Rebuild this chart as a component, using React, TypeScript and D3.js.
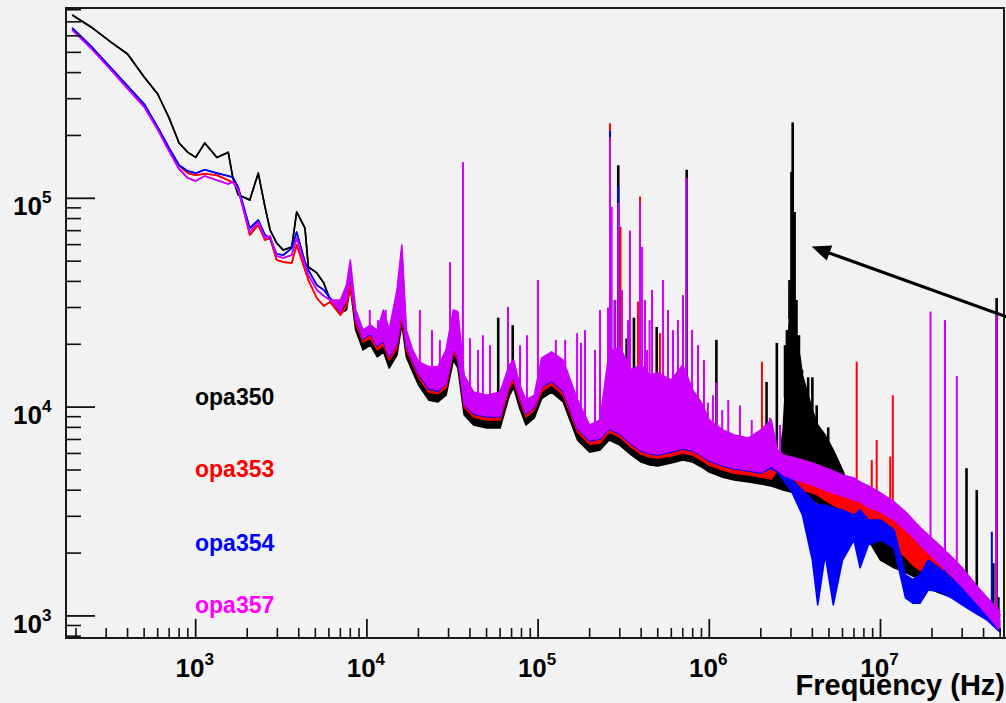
import React from 'react';
import * as d3 from 'd3';

// ---------- data ----------
const FREQ = [
  190, 250, 320, 400, 500, 600, 700, 800, 900, 1000,
  1130, 1330, 1550, 1650, 1770, 2070, 2320, 2540, 2720, 2970,
  3250, 3640, 3890, 4350, 4550, 5100, 5600, 6100, 7000, 7600,
  8000, 8600, 9500, 10500, 11500, 12500, 13500, 15000, 16000, 17000,
  18500, 20000, 23000, 26000, 29000, 32000, 34000, 37000, 42000, 50000,
  60000, 68000, 72000, 78000, 85000, 95000, 105000, 120000, 140000, 170000,
  200000, 230000, 260000, 300000, 350000, 400000, 450000, 500000, 600000, 700000,
  800000, 900000, 1.0e6, 1.2e6, 1.4e6, 1.7e6, 2.0e6, 2.3e6, 2.5e6, 2.7e6,
  3.0e6, 3.5e6, 4.0e6, 4.3e6, 4.75e6, 5.3e6, 6.0e6, 7.0e6, 7.6e6, 8.5e6,
  1.0e7, 1.2e7, 1.4e7, 1.55e7, 1.7e7, 1.9e7, 2.2e7, 2.6e7, 3.0e7, 3.6e7,
  4.2e7, 5.0e7,
];

// opa350 (black): lower trace and upper envelope of the noise band
const LO_350 = [
  7.55e5, 6.54e5, 5.60e5, 4.91e5, 3.81e5, 3.16e5, 2.42e5, 1.84e5, 1.66e5, 1.57e5,
  1.84e5, 1.57e5, 1.66e5, 1.25e5, 1.04e5, 9.81e4, 1.32e5, 9.09e4, 7.05e4, 6.11e4,
  5.65e4, 5.84e4, 8.60e4, 7.20e4, 4.69e4, 4.39e4, 3.93e4, 3.26e4, 2.82e4, 2.92e4,
  3.76e4, 2.34e4, 1.88e4, 1.98e4, 1.74e4, 1.84e4, 1.54e4, 1.78e4, 2.52e4, 1.74e4,
  1.48e4, 1.28e4, 1.08e4, 1.06e4, 1.14e4, 1.68e4, 1.54e4, 9.17e3, 8.21e3, 7.94e3,
  7.94e3, 1.14e4, 1.24e4, 9.9e3, 8.21e3, 8.87e3, 1.10e4, 1.18e4, 1.06e4, 6.96e3,
  6.09e3, 6.23e3, 6.96e3, 6.58e3, 5.90e3, 5.46e3, 5.28e3, 5.22e3, 5.40e3, 5.58e3,
  5.46e3, 5.17e3, 4.89e3, 4.62e3, 4.48e3, 4.38e3, 4.29e3, 4.19e3, 4.10e3, 4.01e3,
  3.92e3, 3.71e3, 3.59e3, 3.48e3, 3.32e3, 3.22e3, 3.04e3, 2.82e3, 2.58e3, 2.31e3,
  1.85e3, 1.70e3, 1.62e3, 1.55e3, 1.46e3, 1.36e3, 1.29e3, 1.23e3, 1.19e3, 1.09e3,
  1.01e3, 855,
];
const HI_350 = [
  null, null, null, null, null, null, null, null, null, null,
  null, null, null, null, null, null, null, null, null, null,
  null, null, null, null, null, null, null, null, 3.08e4, 3.33e4,
  4.06e4, 2.67e4, 2.14e4, 2.29e4, 1.98e4, 2.10e4, 1.76e4, 2.03e4, 2.86e4, 1.98e4,
  1.68e4, 1.48e4, 1.24e4, 1.21e4, 1.32e4, 1.88e4, 1.76e4, 1.06e4, 9.47e3, 9.17e3,
  9.27e3, 1.32e4, 1.40e4, 1.14e4, 9.47e3, 1.02e4, 1.28e4, 1.35e4, 1.21e4, 8.21e3,
  6.96e3, 7.12e3, 8.68e3, 8.21e3, 6.96e3, 6.58e3, 6.37e3, 6.23e3, 6.58e3, 6.96e3,
  6.44e3, 6.09e3, 5.71e3, 5.40e3, 5.22e3, 5.11e3, 5.00e3, 4.89e3, 5.00e3, 7.77e3,
  3.64e4, 1.42e4, 9.68e3, 8.21e3, 7.35e3, 6.23e3, 5.00e3, 3.59e3, 3.29e3, 3.04e3,
  2.73e3, 2.44e3, 2.19e3, 2.03e3, 1.89e3, 1.75e3, 1.62e3, 1.49e3, 1.36e3, 1.23e3,
  1.13e3, 1.01e3,
];

// opa353 (red)
const LO_353 = [
  6.54e5, 5.25e5, 4.21e5, 3.45e5, 2.80e5, 2.17e5, 1.72e5, 1.43e5, 1.32e5, 1.29e5,
  1.31e5, 1.29e5, 1.22e5, 1.19e5, 1.12e5, 6.67e4, 7.45e4, 6.31e4, 6.45e4, 5.06e4,
  4.95e4, 4.90e4, 5.98e4, 4.54e4, 4.06e4, 3.33e4, 3.05e4, 3.19e4, 2.76e4, 3.05e4,
  3.84e4, 2.52e4, 2.05e4, 2.14e4, 1.88e4, 1.98e4, 1.68e4, 1.92e4, 2.73e4, 1.88e4,
  1.61e4, 1.39e4, 1.18e4, 1.16e4, 1.24e4, 1.84e4, 1.68e4, 1.00e4, 8.97e3, 8.68e3,
  8.68e3, 1.24e4, 1.33e4, 1.08e4, 8.97e3, 9.68e3, 1.19e4, 1.28e4, 1.14e4, 7.60e3,
  6.65e3, 6.73e3, 7.60e3, 7.19e3, 6.44e3, 5.96e3, 5.77e3, 5.71e3, 5.84e3, 6.03e3,
  5.90e3, 5.58e3, 5.28e3, 5.00e3, 4.83e3, 4.73e3, 4.63e3, 4.53e3, 5.00e3, 4.58e3,
  4.24e3, 4.01e3, 3.88e3, 3.79e3, 3.59e3, 3.40e3, 3.22e3, 2.98e3, 2.82e3, 2.58e3,
  2.36e3, 2.12e3, 1.92e3, 1.75e3, 1.66e3, 1.57e3, 1.49e3, 1.36e3, 1.23e3, 1.11e3,
  990, 855,
];
const HI_353 = [
  null, null, null, null, null, null, null, null, null, null,
  null, null, null, null, null, null, null, null, null, null,
  null, null, null, null, null, null, null, null, null, null,
  null, 2.83e4, 2.29e4, 2.39e4, 2.10e4, 2.21e4, 1.88e4, 2.14e4, 3.26e4, 2.10e4,
  1.80e4, 1.56e4, 1.32e4, 1.30e4, 1.38e4, 2.10e4, 1.88e4, 1.12e4, 1.00e4, 9.68e3,
  9.68e3, 1.38e4, 1.49e4, 1.21e4, 1.00e4, 1.08e4, 1.33e4, 1.42e4, 1.28e4, 8.49e3,
  7.44e3, 7.52e3, 8.68e3, 8.21e3, 7.35e3, 6.96e3, 6.73e3, 6.58e3, 6.73e3, 6.96e3,
  6.73e3, 6.37e3, 6.03e3, 5.71e3, 5.46e3, 5.34e3, 5.22e3, 5.11e3, 5.90e3, 5.28e3,
  5.00e3, 4.73e3, 4.58e3, 4.48e3, 4.33e3, 4.14e3, 3.92e3, 3.67e3, 3.59e3, 3.40e3,
  3.15e3, 2.88e3, 2.58e3, 2.44e3, 2.31e3, 2.12e3, 1.96e3, 1.75e3, 1.57e3, 1.33e3,
  1.19e3, 1.01e3,
];

// opa354 (blue)
const LO_354 = [
  6.54e5, 5.25e5, 4.21e5, 3.45e5, 2.83e5, 2.19e5, 1.74e5, 1.44e5, 1.35e5, 1.32e5,
  1.37e5, 1.32e5, 1.28e5, 1.26e5, 1.13e5, 7.20e4, 7.87e4, 6.67e4, 6.45e4, 5.41e4,
  5.35e4, 5.78e4, 6.89e4, 4.95e4, 4.54e4, 3.84e4, 3.64e4, 3.33e4, 2.92e4, 3.37e4,
  4.54e4, 2.64e4, 2.12e4, 2.24e4, 1.96e4, 2.07e4, 1.74e4, 2.01e4, 2.92e4, 1.96e4,
  1.66e4, 1.44e4, 1.22e4, 1.19e4, 1.30e4, 1.90e4, 1.74e4, 1.03e4, 9.27e3, 8.97e3,
  8.97e3, 1.30e4, 1.39e4, 1.12e4, 9.27e3, 1.00e4, 1.25e4, 1.33e4, 1.19e4, 7.86e3,
  6.88e3, 7.04e3, 7.86e3, 7.44e3, 6.65e3, 6.16e3, 5.96e3, 5.90e3, 6.09e3, 6.30e3,
  6.16e3, 5.84e3, 5.52e3, 5.22e3, 5.06e3, 4.95e3, 4.83e3, 5.11e3, 4.89e3, 4.48e3,
  4.01e3, 3.04e3, 1.85e3, 1.13e3, 1.96e3, 1.13e3, 1.85e3, 2.31e3, 1.70e3, 2.19e3,
  2.31e3, 2.12e3, 1.22e3, 1.15e3, 1.15e3, 1.33e3, 1.31e3, 1.22e3, 1.13e3, 1.03e3,
  955, 836,
];
const HI_354 = [
  null, null, null, null, null, null, null, null, null, null,
  null, null, null, null, null, null, null, null, null, null,
  null, null, null, null, null, null, null, null, null, null,
  null, 2.76e4, 2.19e4, 2.34e4, 2.19e4, 2.73e4, 2.19e4, 3.41e4, 5.59e4, 2.19e4,
  1.74e4, 1.54e4, 1.46e4, 1.46e4, 1.76e4, 2.73e4, 2.67e4, 1.33e4, 1.10e4, 1.07e4,
  1.10e4, 1.49e4, 1.57e4, 1.19e4, 1.01e4, 1.07e4, 1.61e4, 1.72e4, 1.57e4, 1.01e4,
  7.68e3, 8.12e3, 1.70e4, 1.80e4, 1.35e4, 1.45e4, 1.30e4, 1.35e4, 1.22e4, 1.45e4,
  1.12e4, 9.6e3, 8.12e3, 7.27e3, 6.88e3, 6.65e3, 7.27e3, 8.12e3, 5.71e3, 5.11e3,
  4.58e3, 4.01e3, 3.59e3, 3.40e3, 3.40e3, 3.29e3, 3.22e3, 3.04e3, 3.22e3, 2.88e3,
  2.88e3, 2.58e3, 1.57e3, 1.49e3, 1.57e3, 1.85e3, 1.70e3, 1.52e3, 1.36e3, 1.22e3,
  1.09e3, 935,
];

// opa357 (magenta)
const LO_357 = [
  6.40e5, 5.13e5, 4.12e5, 3.35e5, 2.74e5, 2.13e5, 1.68e5, 1.38e5, 1.25e5, 1.21e5,
  1.28e5, 1.22e5, 1.17e5, 1.20e5, 1.10e5, 6.89e4, 7.70e4, 6.45e4, 6.60e4, 5.29e4,
  5.18e4, 5.35e4, 6.45e4, 4.79e4, 4.29e4, 3.64e4, 3.41e4, 3.26e4, 2.86e4, 3.26e4,
  4.29e4, 2.67e4, 2.14e4, 2.26e4, 1.98e4, 2.10e4, 1.76e4, 2.03e4, 2.95e4, 1.98e4,
  1.68e4, 1.46e4, 1.24e4, 1.21e4, 1.30e4, 1.92e4, 1.76e4, 1.04e4, 9.37e3, 9.07e3,
  9.07e3, 1.30e4, 1.40e4, 1.13e4, 9.37e3, 1.01e4, 1.26e4, 1.35e4, 1.21e4, 7.94e3,
  6.96e3, 7.12e3, 7.94e3, 7.52e3, 6.73e3, 6.23e3, 6.03e3, 5.96e3, 6.16e3, 6.37e3,
  6.23e3, 5.90e3, 5.58e3, 5.28e3, 5.11e3, 5.00e3, 4.89e3, 5.22e3, 5.00e3, 4.73e3,
  4.58e3, 4.38e3, 4.24e3, 4.14e3, 4.01e3, 3.88e3, 3.75e3, 3.59e3, 3.52e3, 3.32e3,
  3.15e3, 2.88e3, 2.58e3, 2.39e3, 2.19e3, 2.01e3, 1.79e3, 1.57e3, 1.38e3, 1.17e3,
  1.01e3, 855,
];
const HI_357 = [
  null, null, null, null, null, null, null, null, null, null,
  null, null, null, null, null, null, null, null, null, null,
  null, null, null, null, null, null, null, null, 3.26e4, 3.84e4,
  5.06e4, 2.92e4, 2.34e4, 2.47e4, 2.34e4, 2.92e4, 2.34e4, 3.64e4, 5.98e4, 2.34e4,
  1.88e4, 1.65e4, 1.56e4, 1.56e4, 1.88e4, 2.92e4, 2.86e4, 1.42e4, 1.18e4, 1.14e4,
  1.18e4, 1.59e4, 1.68e4, 1.28e4, 1.08e4, 1.14e4, 1.72e4, 1.84e4, 1.68e4, 1.08e4,
  8.21e3, 8.68e3, 1.84e4, 1.94e4, 1.51e4, 1.59e4, 1.42e4, 1.46e4, 1.35e4, 1.59e4,
  1.21e4, 1.05e4, 8.68e3, 7.77e3, 7.35e3, 7.12e3, 7.77e3, 8.68e3, 6.23e3, 5.90e3,
  5.77e3, 5.58e3, 5.40e3, 5.28e3, 5.11e3, 4.94e3, 4.73e3, 4.58e3, 4.38e3, 4.19e3,
  3.88e3, 3.52e3, 3.15e3, 2.88e3, 2.66e3, 2.44e3, 2.19e3, 1.92e3, 1.70e3, 1.41e3,
  1.22e3, 1.05e3,
];

// narrow spectral lines: [frequency Hz, peak value]
const SPIKES_350 = [
  [5.85e4, 2.68e4], [7.11e4, 2.47e4], [2.81e5, 3.26e4], [2.94e5, 1.44e5], [3.29e5, 2.13e4],
  [3.63e5, 2.68e4], [4.93e5, 2.42e4], [7.38e5, 1.37e5], [1.10e6, 2.10e4], [2.16e6, 1.32e4],
  [2.48e6, 2.03e4], [2.77e6, 1.98e4], [2.84e6, 2.34e4], [2.94e6, 4.06e4], [3.02e6, 1.34e5],
  [3.07e6, 2.31e5], [3.15e6, 8.6e4], [3.23e6, 3.26e4], [3.34e6, 2.21e4], [3.48e6, 1.51e4],
  [3.78e6, 1.39e4], [4.0e6, 1.39e4], [4.24e6, 1.02e4], [4.95e6, 8.0e3], [1.78e7, 2.14e3],
  [3.18e7, 5.1e3], [3.65e7, 4.01e3], [4.56e7, 1.79e3], [4.77e7, 3.33e4], [4.88e7, 1.23e3],
];
const SPIKES_353 = [
  [2.63e5, 2.29e5], [3.03e5, 7.3e4], [3.83e5, 3.2e4], [3.94e5, 1.02e5], [5.15e5, 2.26e4],
  [2.03e6, 1.65e4], [7.26e6, 1.65e4], [8.89e6, 5.58e3], [9.5e6, 6.96e3], [1.14e7, 5.8e3],
  [1.18e7, 1.14e4],
];
const SPIKES_354 = [
  [2.63e5, 2.10e5], [2.94e5, 1.14e5], [2.38e7, 2.58e4], [4.47e7, 2.53e3],
];
const SPIKES_357 = [
  [1.04e4, 2.92e4], [1.16e4, 2.61e4], [1.29e4, 2.92e4], [2.04e4, 2.92e4], [2.40e4, 2.34e4],
  [2.67e4, 2.10e4], [3.06e4, 4.95e4], [3.64e4, 1.49e5], [4.0e4, 2.14e4], [4.46e4, 1.88e4],
  [4.76e4, 2.21e4], [5.24e4, 1.98e4], [6.67e4, 3.02e4], [7.84e4, 1.98e4], [8.61e4, 2.21e4],
  [9.98e4, 4.06e4], [1.27e5, 2.10e4], [1.44e5, 2.10e4], [1.69e5, 2.26e4], [1.78e5, 2.03e4],
  [1.88e5, 2.34e4], [2.15e5, 1.88e4], [2.30e5, 2.92e4], [2.56e5, 3.0e4], [2.63e5, 1.96e5],
  [2.69e5, 9.1e4], [2.81e5, 3.26e4], [2.94e5, 9.5e4], [3.09e5, 3.64e4], [3.35e5, 2.61e4],
  [3.44e5, 7.0e4], [3.94e5, 9.5e4], [4.05e5, 5.85e4], [4.21e5, 3.26e4], [4.33e5, 1.88e4],
  [4.48e5, 2.61e4], [4.63e5, 3.64e4], [5.37e5, 4.06e4], [5.74e5, 2.92e4], [6.14e5, 2.34e4],
  [6.56e5, 2.61e4], [7.02e5, 3.44e4], [7.38e5, 1.25e5], [7.93e5, 2.34e4], [8.59e5, 1.98e4],
  [9.31e5, 1.68e4], [9.82e5, 1.05e4], [1.05e6, 1.14e4], [1.10e6, 1.31e4], [1.19e6, 9.68e3],
  [1.29e6, 1.08e4], [1.51e6, 1.02e4], [1.77e6, 8.68e3], [1.98e6, 7.77e3], [2.26e6, 8.9e3],
  [2.59e6, 8.21e3], [1.96e7, 2.87e4], [2.38e7, 2.61e4], [2.79e7, 1.41e4], [4.77e7, 2.76e4],
];

const SERIES_NAMES = ['opa350', 'opa353', 'opa354', 'opa357'];
const X_MAJOR = [1e3, 1e4, 1e5, 1e6, 1e7];
const X_MAJOR_EXP = ['3', '4', '5', '6', '7'];
const Y_MAJOR = [1e3, 1e4, 1e5];
const Y_MAJOR_EXP = ['3', '4', '5'];
const X_DOMAIN = [174.8, 5.265e7];
const Y_DOMAIN = [784, 8.155e5];
const X_TITLE = 'Frequency (Hz)';
// arrow annotation pointing at the opa350 peak
const ARROW = { tipFreq: 3.96e6, tipValue: 5.87e4, tailFreq: 5.7e7, tailValue: 2.67e4 };

const SERIES = [
  { name: SERIES_NAMES[0], color: '#000000', text: '#000000', lo: LO_350, hi: HI_350, spikes: SPIKES_350, core: true },
  { name: SERIES_NAMES[1], color: '#ff0000', text: '#ff0000', lo: LO_353, hi: HI_353, spikes: SPIKES_353, core: false },
  { name: SERIES_NAMES[2], color: '#0000ff', text: '#0000ff', lo: LO_354, hi: HI_354, spikes: SPIKES_354, core: false },
  { name: SERIES_NAMES[3], color: '#cc00ff', text: '#ff00ff', lo: LO_357, hi: HI_357, spikes: SPIKES_357, core: false },
];

const FONT = '"Liberation Sans", Arial, Helvetica, sans-serif';

export default function App() {
  const W = 1006, H = 703;
  const L = 66, T = 8, R = 1004, B = 638;
  const x = d3.scaleLog().domain(X_DOMAIN).range([L, R]);
  const y = d3.scaleLog().domain(Y_DOMAIN).range([B, T]);
  const idx = d3.range(FREQ.length);

  const layers = SERIES.map((s) => {
    const hiV = (i: number) => (s.hi[i] ?? s.lo[i]) as number;
    const area = d3.area<number>().x((i) => x(FREQ[i])).y0((i) => y(s.lo[i])).y1((i) => y(hiV(i)))(idx) || '';
    const lo = d3.line<number>().x((i) => x(FREQ[i])).y((i) => y(s.lo[i]))(idx) || '';
    const hi = d3.line<number>().x((i) => x(FREQ[i])).y((i) => y(hiV(i)))(idx) || '';
    const spikes = s.spikes.map(([f, v]) => {
      const px = x(f);
      const j = Math.min(Math.max(d3.bisectRight(FREQ, f), 1), FREQ.length - 1);
      const x0 = x(FREQ[j - 1]), x1 = x(FREQ[j]);
      const t = (px - x0) / (x1 - x0);
      const base = y(hiV(j - 1)) + t * (y(hiV(j)) - y(hiV(j - 1)));
      return { x: px, y0: base + 2, y1: y(v) };
    });
    return { ...s, area, loPath: lo, hiPath: hi, spikeLines: spikes };
  });

  const xMinor: number[] = [];
  for (let d = 100; d <= 1e8; d *= 10) for (let m = 2; m <= 9; m++) {
    const f = m * d; if (f > X_DOMAIN[0] && f < X_DOMAIN[1]) xMinor.push(f);
  }
  const yMinor: number[] = [];
  for (let d = 100; d <= 1e6; d *= 10) for (let m = 2; m <= 9; m++) {
    const v = m * d; if (v > Y_DOMAIN[0] && v < Y_DOMAIN[1]) yMinor.push(v);
  }

  // arrow geometry
  const tx = x(ARROW.tipFreq), ty = y(ARROW.tipValue);
  const ex = x(ARROW.tailFreq), ey = y(ARROW.tailValue);
  const len = Math.hypot(ex - tx, ey - ty);
  const ux = (ex - tx) / len, uy = (ey - ty) / len;
  const hl = 19, hw = 8;
  const bx = tx + ux * hl, by = ty + uy * hl;
  const head = `${tx},${ty} ${bx - uy * hw},${by + ux * hw} ${bx + uy * hw},${by - ux * hw}`;

  const legendY = [405, 477, 551, 613];

  return (
    <svg width={W} height={H} style={{ position: 'absolute', left: 0, top: 0, display: 'block' }} fontFamily={FONT}>
      <rect x={0} y={0} width={W} height={H} fill="#f2f2f2" />
      <defs>
        <clipPath id="plotclip"><rect x={L} y={T} width={R - L} height={B - T} /></clipPath>
      </defs>
      <g clipPath="url(#plotclip)">
        {layers.map((s) => (
          <g key={s.name}>
            <path d={s.area} fill={s.color} stroke="none" />
            <path d={s.hiPath} fill="none" stroke={s.color} strokeWidth={1.6} strokeLinejoin="round" />
            <path d={s.loPath} fill="none" stroke={s.color} strokeWidth={1.6} strokeLinejoin="round" />
            {s.spikeLines.map((l, k) => (
              <line key={k} x1={l.x} x2={l.x} y1={l.y0} y2={l.y1} stroke={s.color} strokeWidth={s.core ? 2.6 : 2} />
            ))}
          </g>
        ))}
      </g>

      {/* frame */}
      <rect x={L} y={T} width={R - L} height={B - T} fill="none" stroke="#1a1a1a" strokeWidth={2} />
      <line x1={L} x2={W} y1={B} y2={B} stroke="#1a1a1a" strokeWidth={2} />

      {/* x ticks */}
      {xMinor.map((f) => (
        <line key={'xm' + f} x1={x(f)} x2={x(f)} y1={B} y2={B - 10} stroke="#111" strokeWidth={1.6} />
      ))}
      {X_MAJOR.map((f, i) => (
        <g key={'xM' + f}>
          <line x1={x(f)} x2={x(f)} y1={B} y2={B - 19} stroke="#111" strokeWidth={1.8} />
          <text x={x(f) - 1} y={677} textAnchor="middle" fontSize={26} fontWeight="bold" fill="#000">
            10<tspan dy={-12} fontSize={17}>{X_MAJOR_EXP[i]}</tspan>
          </text>
        </g>
      ))}

      {/* y ticks */}
      {yMinor.map((v) => (
        <line key={'ym' + v} x1={L} x2={L + 15} y1={y(v)} y2={y(v)} stroke="#111" strokeWidth={1.6} />
      ))}
      {Y_MAJOR.map((v, i) => (
        <g key={'yM' + v}>
          <line x1={L} x2={L + 29} y1={y(v)} y2={y(v)} stroke="#111" strokeWidth={1.8} />
          <text x={13} y={y(v) + 17} textAnchor="start" fontSize={26} fontWeight="bold" fill="#000">
            10<tspan dy={-12} fontSize={17}>{Y_MAJOR_EXP[i]}</tspan>
          </text>
        </g>
      ))}

      <text x={1005} y={695} textAnchor="end" fontSize={29} fontWeight="bold" fill="#000">{X_TITLE}</text>

      {/* legend */}
      {SERIES.map((s, i) => (
        <text key={'lg' + s.name} x={195} y={legendY[i]} fontSize={23} fontWeight="bold" fill={s.text}>{s.name}</text>
      ))}

      {/* arrow */}
      <line x1={bx - ux * 2} y1={by - uy * 2} x2={ex} y2={ey} stroke="#000" strokeWidth={3.2} />
      <polygon points={head} fill="#000" />
    </svg>
  );
}
